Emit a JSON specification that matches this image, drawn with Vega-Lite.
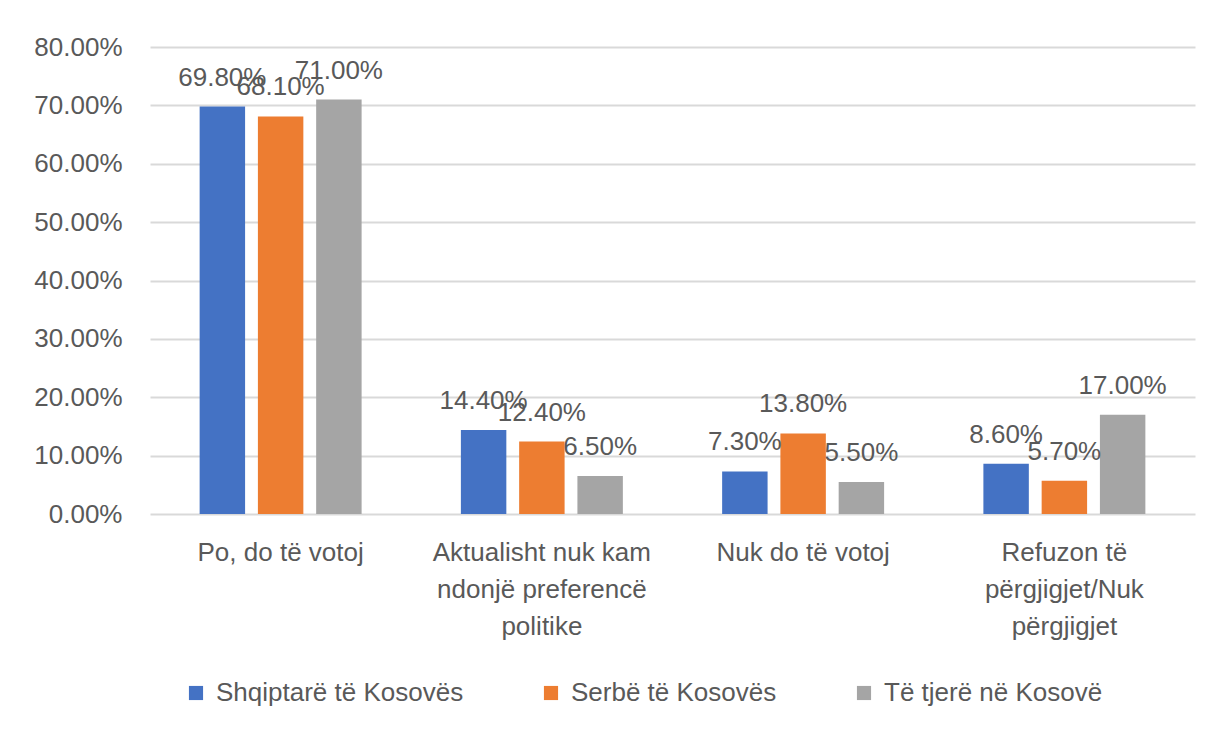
{
  "$schema": "https://vega.github.io/schema/vega-lite/v6.json",
  "width": 1045,
  "height": 467,
  "autosize": {"type": "none"},
  "padding": {"left": 150, "top": 47, "right": 23, "bottom": 225},
  "background": "white",
  "data": {
    "values": [
      {"cat": "Po, do të votoj", "group": "Shqiptarë të Kosovës", "value": 0.698},
      {"cat": "Po, do të votoj", "group": "Serbë të Kosovës", "value": 0.681},
      {"cat": "Po, do të votoj", "group": "Të tjerë në Kosovë", "value": 0.71},
      {"cat": "Aktualisht nuk kam|ndonjë preferencë|politike", "group": "Shqiptarë të Kosovës", "value": 0.144},
      {"cat": "Aktualisht nuk kam|ndonjë preferencë|politike", "group": "Serbë të Kosovës", "value": 0.124},
      {"cat": "Aktualisht nuk kam|ndonjë preferencë|politike", "group": "Të tjerë në Kosovë", "value": 0.065},
      {"cat": "Nuk do të votoj", "group": "Shqiptarë të Kosovës", "value": 0.073},
      {"cat": "Nuk do të votoj", "group": "Serbë të Kosovës", "value": 0.138},
      {"cat": "Nuk do të votoj", "group": "Të tjerë në Kosovë", "value": 0.055},
      {"cat": "Refuzon të|përgjigjet/Nuk|përgjigjet", "group": "Shqiptarë të Kosovës", "value": 0.086},
      {"cat": "Refuzon të|përgjigjet/Nuk|përgjigjet", "group": "Serbë të Kosovës", "value": 0.057},
      {"cat": "Refuzon të|përgjigjet/Nuk|përgjigjet", "group": "Të tjerë në Kosovë", "value": 0.17}
    ]
  },
  "encoding": {
    "x": {
      "field": "cat", "type": "nominal", "sort": null, "title": null,
      "scale": {"paddingInner": 0.38, "paddingOuter": 0.19},
      "axis": {
        "labelAngle": 0, "ticks": false, "domain": false,
        "labelExpr": "split(datum.label, '|')",
        "labelFont": "Liberation Sans", "labelFontSize": 26, "labelColor": "#595959",
        "labelLineHeight": 37, "labelPadding": 25, "labelBaseline": "top",
        "labelLimit": 400, "labelOverlap": false
      }
    },
    "xOffset": {
      "field": "group", "type": "nominal", "sort": null,
      "scale": {"paddingInner": 0.22, "paddingOuter": 0}
    },
    "y": {
      "field": "value", "type": "quantitative", "title": null,
      "scale": {"domain": [0, 0.8], "nice": false},
      "axis": {
        "format": ".2%", "values": [0, 0.1, 0.2, 0.3, 0.4, 0.5, 0.6, 0.7, 0.8],
        "ticks": false, "domain": false, "labelOverlap": false,
        "gridColor": "#d9d9d9", "gridWidth": 2,
        "labelFont": "Liberation Sans", "labelFontSize": 26, "labelColor": "#595959",
        "labelPadding": 28
      }
    }
  },
  "layer": [
    {
      "mark": {"type": "bar"},
      "encoding": {
        "color": {
          "field": "group", "type": "nominal", "sort": null, "title": null,
          "scale": {"domain": ["Shqiptarë të Kosovës", "Serbë të Kosovës", "Të tjerë në Kosovë"], "range": ["#4472C4", "#ED7D31", "#A5A5A5"]},
          "legend": {
            "orient": "none", "legendX": 33, "legendY": 633,
            "direction": "horizontal", "columns": 3, "gridAlign": "none",
            "columnPadding": 74,
            "symbolType": "square", "symbolSize": 200, "symbolStrokeWidth": 0,
            "labelFont": "Liberation Sans", "labelFontSize": 26, "labelColor": "#595959",
            "labelOffset": 7, "labelLimit": 400
          }
        }
      }
    },
    {
      "mark": {"type": "text", "baseline": "alphabetic", "dy": -21, "font": "Liberation Sans", "fontSize": 26, "color": "#595959"},
      "encoding": {
        "text": {"field": "value", "type": "quantitative", "format": ".2%"}
      }
    }
  ],
  "config": {"view": {"stroke": null}}
}
